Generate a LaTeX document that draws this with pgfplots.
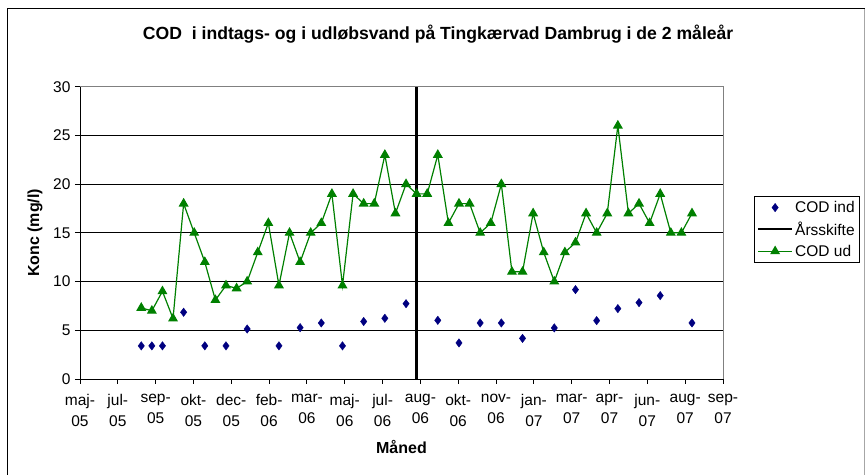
\documentclass[border=0pt]{standalone}
\usepackage{fontspec}
\setmainfont{Liberation Sans}
\usepackage{pgfplots}
\pgfplotsset{compat=1.18}
\definecolor{codind}{RGB}{0,0,128}
\definecolor{codud}{RGB}{0,128,0}
\begin{document}
\begin{tikzpicture}
\begin{axis}[
  scale only axis,
  width=643pt, height=292.3pt,
  xmin=0, xmax=850, ymin=0, ymax=30,
  xtick={0,50,...,850},
  xticklabels={{maj-\\05},{jul-\\05},{sep-\\05},{okt-\\05},{dec-\\05},{feb-\\06},{mar-\\06},{maj-\\06},{jul-\\06},{aug-\\06},{okt-\\06},{nov-\\06},{jan-\\07},{mar-\\07},{apr-\\07},{jun-\\07},{aug-\\07},{sep-\\07}},
  xticklabel style={align=center, font=\fontsize{15.5}{20.5}\selectfont, yshift=-7pt},
  ytick={0,5,...,30},
  yticklabel style={font=\fontsize{15.5}{18}\selectfont, xshift=-1pt},
  /pgf/number format/assume math mode=true,
  axis x line*=bottom, axis y line*=left,
  axis line style={black, line width=0.9pt},
  tick align=outside,
  major tick length=5pt,
  tick style={black, line width=0.9pt},
  ymajorgrids, grid style={black, line width=0.8pt},
  clip=false,
  legend style={at={(1.048,0.626)}, anchor=north west, draw=black,
    font=\fontsize{15.5}{18}\selectfont, row sep=4pt, inner sep=3pt},
  legend cell align=left,
  legend image code/.code={\draw[mark repeat=2,mark phase=2] plot coordinates {(0cm,0cm) (0.6cm,0cm) (1.2cm,0cm)};},
]
\draw[gray, line width=0.9pt] (rel axis cs:0,1) -- (rel axis cs:1,1) -- (rel axis cs:1,0);
\addplot[only marks, mark=diamond*, mark size=4.2pt, color=codind] coordinates {
(81,3.4)(95,3.4)(109,3.4)(137,6.85)(165,3.4)(193,3.4)(221,5.13)(263,3.4)(291,5.27)
(319,5.75)(347,3.4)(375,5.9)(403,6.23)(431,7.73)(473,6.02)(501,3.7)(529,5.75)(557,5.75)
(585,4.17)(627,5.24)(655,9.17)(683,5.99)(711,7.22)(739,7.84)(767,8.56)(809,5.75)
};
\addlegendentry{COD ind}
\addplot[black, line width=2.6pt, forget plot] coordinates {(445,0)(445,30)};
\addlegendimage{black, line width=2pt}
\addlegendentry{Årsskifte}
\addplot[codud, line width=1.2pt, mark=triangle*, mark size=4.6pt, mark options={solid, fill=codud}] coordinates {
(81,7.3)(95,7.0)(109,9.0)(123,6.2)(137,18)(151,15)(165,12)(179,8.1)(193,9.6)(207,9.3)
(221,10)(235,13)(249,16)(263,9.6)(277,15)(291,12)(305,15)(319,16)(333,19)(347,9.6)
(361,19)(375,18)(389,18)(403,23)(417,17)(431,20)(445,19)(459,19)(473,23)(487,16)
(501,18)(515,18)(529,15)(543,16)(557,20)(571,11)(585,11)(599,17)(613,13)(627,10)
(641,13)(655,14)(669,17)(683,15)(697,17)(711,26)(725,17)(739,18)(753,16)(767,19)
(781,15)(795,15)(809,17)
};
\addlegendentry{COD ud}
\node[anchor=base, font=\fontsize{17.6}{20}\selectfont\bfseries] at (rel axis cs:0.557,1.163) {COD\ \ i indtags- og i udløbsvand på Tingkærvad Dambrug i de 2 måleår};
\node[anchor=base, font=\fontsize{16}{19}\selectfont\bfseries] at (rel axis cs:0.5,-0.2566) {Måned};
\node[rotate=90, anchor=center, font=\fontsize{16}{19}\selectfont\bfseries] at (rel axis cs:-0.07,0.5) {Konc (mg/l)};
\draw[black, line width=1pt] (rel axis cs:-0.112,-0.3284) -- (rel axis cs:-0.112,1.2658) -- (rel axis cs:1.2208,1.2658);
\draw[gray!70, line width=1pt] (rel axis cs:1.2208,1.2658) -- (rel axis cs:1.2208,-0.3284);
\path (rel axis cs:-0.1244,-0.3284) rectangle (rel axis cs:1.2224,1.2966);
\end{axis}
\end{tikzpicture}
\end{document}
